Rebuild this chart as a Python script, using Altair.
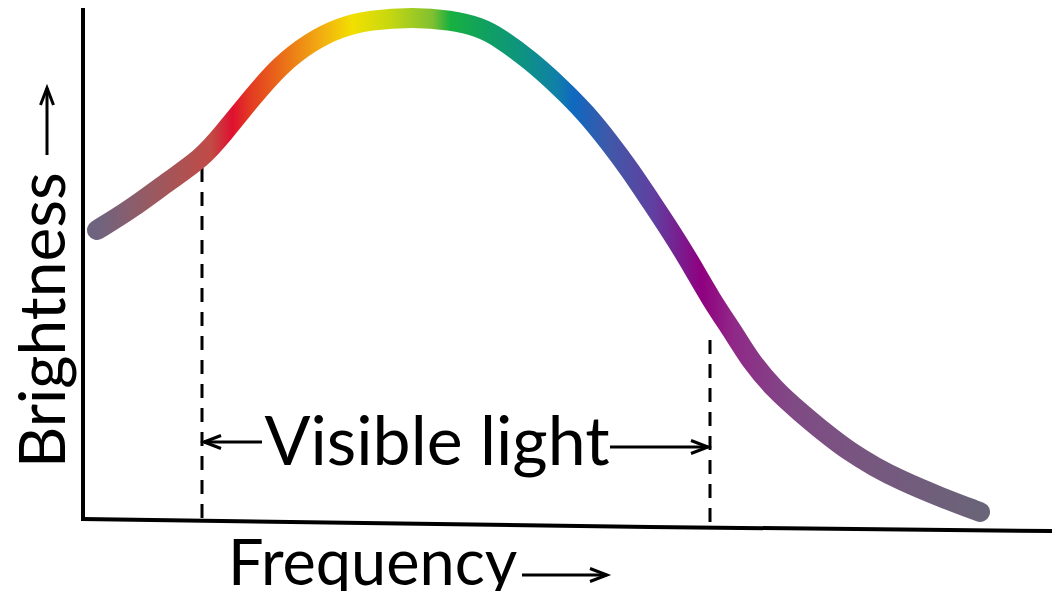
import altair as alt
import pandas as pd
import numpy as np

# ---- data (arbitrary units: frequency / brightness) ----
curve_freq = [0.14, 0.47, 0.87, 1.19, 1.39, 1.67, 1.97, 2.27, 2.57, 2.87, 3.30,
              3.67, 3.97, 4.17, 4.47, 4.77, 5.02, 5.27, 5.47, 5.67, 5.87, 6.07,
              6.27, 6.54, 6.67, 6.92, 7.17, 7.42, 7.67, 7.92, 8.17, 8.57, 8.97]
curve_bright = [2.88, 3.08, 3.38, 3.60, 3.83, 4.18, 4.53, 4.76, 4.91, 4.98, 5.01,
                4.98, 4.91, 4.80, 4.58, 4.31, 4.06, 3.75, 3.48, 3.18, 2.88, 2.56,
                2.20, 1.80, 1.58, 1.28, 1.06, 0.85, 0.66, 0.51, 0.38, 0.21, 0.06]

grad_offsets = [0.0, 0.06, 0.13, 0.153, 0.173, 0.21, 0.25, 0.29, 0.33, 0.38, 0.40,
                0.44, 0.48, 0.52, 0.54, 0.58, 0.63, 0.685, 0.72, 0.787, 0.88, 1.0]
grad_colors = ["#6e6480", "#985a62", "#c24a45", "#e01030", "#e23a22", "#ea6e18",
               "#f2a812", "#f2e000", "#c8d810", "#80c030", "#18b040", "#10a060",
               "#0e9480", "#1080a8", "#1068c0", "#4058a8", "#6040a0", "#900080",
               "#902888", "#804a85", "#76587f", "#6a6478"]

# visible band limits (dashed lines)
band_x = [1.19, 6.27]
band_top = [3.50, 1.78]
band_bottom = [-0.04, -0.08]

# axis lines
yaxis_x = [0.0, 0.0]
yaxis_y = [0.0, 5.08]
xaxis_x = [0.0, 5.67, 9.69]
xaxis_y = [-0.01, -0.09, -0.13]

# arrows: (tail_x, tail_y, tip_x, tip_y)
arrows = [
    (1.79, 0.76, 1.21, 0.76),    # visible light, left
    (5.27, 0.71, 6.25, 0.71),    # visible light, right
    (4.39, -0.57, 5.24, -0.57),  # frequency
    (-0.36, 3.63, -0.36, 4.30),  # brightness
]

labels = ["Visible light", "Frequency", "Brightness"]
label_x = [3.54, 1.45, -0.18]
label_y = [0.53, -0.67, 0.50]
label_size = [68, 63, 64]

# ---- build tables ----
xs = alt.Scale(domain=[-0.75, 9.69], nice=False, zero=False)
ys = alt.Scale(domain=[-0.73, 5.10], nice=False, zero=False)

def X(f="x"):
    return alt.X(f"{f}:Q", scale=xs, axis=None)

def Y(f="y"):
    return alt.Y(f"{f}:Q", scale=ys, axis=None)

curve_df = pd.DataFrame({"x": curve_freq, "y": curve_bright})
gradient = alt.LinearGradient(
    gradient="linear",
    stops=[alt.GradientStop(offset=o, color=c) for o, c in zip(grad_offsets, grad_colors)],
    x1=0, x2=1, y1=0, y2=0,
)
curve = alt.Chart(curve_df).mark_line(
    interpolate="basis", strokeWidth=20, strokeCap="round", strokeJoin="round",
    color=gradient,
).encode(x=X(), y=Y())

band_df = pd.DataFrame({"x": band_x, "y": band_top, "y2": band_bottom})
band = alt.Chart(band_df).mark_rule(
    color="black", strokeWidth=3, strokeDash=[14, 10]
).encode(x=X(), y=Y(), y2="y2:Q")

axes_rows = []
for i, (px, py) in enumerate(zip(yaxis_x, yaxis_y)):
    axes_rows.append({"id": "y", "o": i, "x": px, "y": py})
for i, (px, py) in enumerate(zip(xaxis_x, xaxis_y)):
    axes_rows.append({"id": "x", "o": i, "x": px, "y": py})
axes_df = pd.DataFrame(axes_rows)
axes = alt.Chart(axes_df).mark_line(color="black", strokeWidth=4, strokeCap="square").encode(
    x=X(), y=Y(), detail="id:N", order="o:Q"
)

arrow_rows = []
L, W = 0.17, 0.065
for k, (tx, ty, hx, hy) in enumerate(arrows):
    d = np.array([hx - tx, hy - ty])
    d = d / np.linalg.norm(d)
    p = np.array([-d[1], d[0]])
    tip = np.array([hx, hy])
    w1 = tip - d * L + p * W
    w2 = tip - d * L - p * W
    arrow_rows += [
        {"id": f"s{k}", "o": 0, "x": tx, "y": ty},
        {"id": f"s{k}", "o": 1, "x": hx, "y": hy},
        {"id": f"h{k}", "o": 0, "x": w1[0], "y": w1[1]},
        {"id": f"h{k}", "o": 1, "x": hx, "y": hy},
        {"id": f"h{k}", "o": 2, "x": w2[0], "y": w2[1]},
    ]
arrow_df = pd.DataFrame(arrow_rows)
arrow_layer = alt.Chart(arrow_df).mark_line(
    color="black", strokeWidth=3, strokeJoin="miter", strokeCap="butt"
).encode(x=X(), y=Y(), detail="id:N", order="o:Q")

FONT = "Lato"
t_vis = alt.Chart(pd.DataFrame({"t": [labels[0]], "x": [label_x[0]], "y": [label_y[0]]})).mark_text(
    font=FONT, fontSize=label_size[0], align="center", baseline="alphabetic", color="black"
).encode(x=X(), y=Y(), text="t:N")
t_freq = alt.Chart(pd.DataFrame({"t": [labels[1]], "x": [label_x[1]], "y": [label_y[1]]})).mark_text(
    font=FONT, fontSize=label_size[1], align="left", baseline="alphabetic", color="black"
).encode(x=X(), y=Y(), text="t:N")
t_bri = alt.Chart(pd.DataFrame({"t": [labels[2]], "x": [label_x[2]], "y": [label_y[2]]})).mark_text(
    font=FONT, fontSize=label_size[2], align="left", baseline="alphabetic", angle=270, color="black"
).encode(x=X(), y=Y(), text="t:N")

chart = alt.layer(axes, band, curve, arrow_layer, t_vis, t_freq, t_bri).properties(
    width=1044, height=583,
    autosize=alt.AutoSizeParams(type="none"),
    padding=0,
    background="white",
).configure_view(stroke=None)

chart.save("out.html", embed_options={"renderer": "svg", "actions": False})
